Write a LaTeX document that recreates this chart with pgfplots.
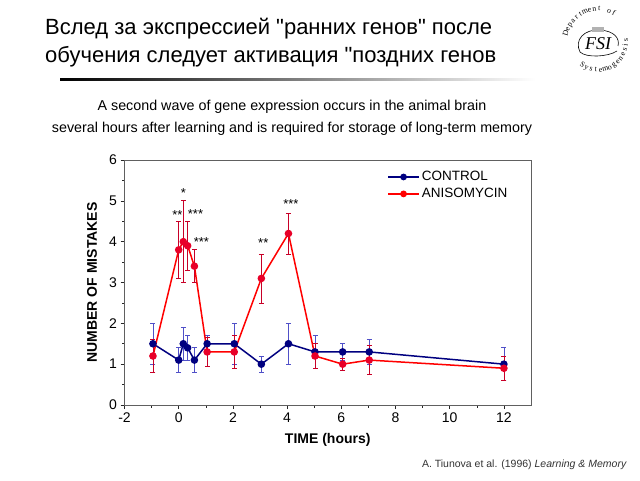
\documentclass[border=0pt]{standalone}
\usepackage{fontspec}
\setmainfont{Liberation Sans}
\newfontfamily\plainsans{Liberation Sans}
\newfontfamily\serifl{Liberation Serif}
\usepackage{pgfplots}
\pgfplotsset{compat=1.18}
\definecolor{ctrl}{RGB}{0,0,128}
\definecolor{ctrlerr}{RGB}{80,80,200}
\definecolor{aniso}{RGB}{255,0,0}
\definecolor{anisomk}{RGB}{232,0,40}
\definecolor{anisoerr}{RGB}{200,0,40}
\begin{document}
\begin{tikzpicture}[x=1pt,y=1pt]
\path[fill=white] (0,0) rectangle (640,480);
% title
\node[anchor=base west, inner sep=0pt, font=\plainsans\fontsize{22}{25}\selectfont] at (45,445) {Вслед за экспрессией "ранних генов" после};
\node[anchor=base west, inner sep=0pt, font=\plainsans\fontsize{22}{25}\selectfont] at (45,417) {обучения следует активация "поздних генов};
\shade[left color=black, right color=white] (60,399) rectangle (535,401.2);
% subtitle
\node[anchor=base, inner sep=0pt, font=\fontsize{14.3}{16}\selectfont] at (292,369) {A second wave of gene expression occurs in the animal brain};
\node[anchor=base, inner sep=0pt, font=\fontsize{14.3}{16}\selectfont] at (292,347) {several hours after learning and is required for storage of long-term memory};
% citation
\node[anchor=base east, inner sep=0pt, font=\fontsize{10.5}{12}\selectfont, text=black!80] at (627,13) {A. Tiunova et al. (1996) \textit{Learning \& Memory}};
% logo
\begin{scope}[shift={(598,438)}]
\draw[line width=0.6pt] (-18,-10) .. controls (-24,2) and (-14,13) .. (2,12) .. controls (16,11) and (22,4) .. (20,-4);
\draw[line width=0.6pt] (-18,-10) .. controls (-12,-16) and (10,-15) .. (19,-9);
\node[font=\serifl\itshape\fontsize{18}{20}\selectfont] at (0,-2) {FSI};
\fill[gray!60] (-6,10) rectangle (6,15);
\foreach \ch [count=\i, evaluate=\i as \a using 165-(\i-1)*8.6] in {D,e,p,a,r,t,m,e,n,t,{},o,f}
  \node[font=\serifl\fontsize{7.8}{9}\selectfont, inner sep=0pt, anchor=base, rotate=\a-90] at (\a:31) {\ch};
\foreach \ch [count=\i, evaluate=\i as \a using 236+(\i-1)*9.8] in {S,y,s,t,e,m,o,g,e,n,e,s,i,s}
  \node[font=\serifl\fontsize{7.8}{9}\selectfont, inner sep=0pt, anchor=base, rotate=\a+90] at (\a:30) {\ch};
\end{scope}
\begin{axis}[
  at={(124.5pt,75pt)}, anchor=south west,
  scale only axis, width=406.5pt, height=245pt,
  xmin=-2, xmax=13, ymin=0, ymax=6,
  xtick={-2,0,2,4,6,8,10,12}, ytick={0,1,2,3,4,5,6},
  minor x tick num=1, minor y tick num=1,
  tick align=outside, xtick pos=bottom, ytick pos=left,
  axis line style={gray!75!black, line width=0.7pt},
  tick style={gray!30!black, line width=0.6pt},
  major tick length=4pt, minor tick length=2.5pt,
  ticklabel style={font=\fontsize{14}{15}\selectfont},
  /pgf/number format/assume math mode=true,
  xlabel={TIME (hours)}, ylabel={NUMBER OF MISTAKES},
  label style={font=\bfseries\fontsize{14}{15}\selectfont},
  xlabel style={at={(axis description cs:0.5,-0.143)}, anchor=center},
  ylabel style={at={(axis description cs:-0.08,0.5)}, anchor=center},
  legend style={draw=none, fill=none, at={(0.646,0.962)}, anchor=north west, font=\fontsize{13.5}{15}\selectfont, inner sep=0pt, row sep=2pt},
  legend cell align=left,
  legend image code/.code={\draw[#1,mark=none] (0pt,0pt)--(31pt,0pt); \fill[#1] (15.5pt,0pt) circle (2.6pt);},
]
\addplot[ctrl, line width=1.5pt, mark=*, mark size=3pt, mark options={ctrl, solid},
  error bars/.cd, y dir=both, y explicit,
  error bar style={ctrlerr, line width=0.7pt},
  error mark options={rotate=90, mark size=2.5pt, ctrlerr, line width=0.7pt}]
table[x=x, y=y, y error=e] {
x y e
-0.95 1.5 0.5
0 1.1 0.3
0.17 1.5 0.4
0.33 1.4 0.3
0.58 1.1 0.3
1.05 1.5 0.2
2.05 1.5 0.5
3.05 1.0 0.2
4.05 1.5 0.5
5.03 1.3 0.4
6.05 1.3 0.2
7.03 1.3 0.3
12 1.0 0.4
};
\addlegendentry{CONTROL}
\addplot[aniso, line width=1.5pt, mark=*, mark size=3pt, mark options={anisomk, solid},
  error bars/.cd, y dir=both, y explicit,
  error bar style={anisoerr, line width=0.7pt},
  error mark options={rotate=90, mark size=2.5pt, anisoerr, line width=0.7pt}]
table[x=x, y=y, y error=e] {
x y e
-0.95 1.2 0.4
0 3.8 0.7
0.17 4.0 1.0
0.33 3.9 0.6
0.58 3.4 0.4
1.05 1.3 0.35
2.05 1.3 0.4
3.05 3.1 0.6
4.05 4.2 0.5
5.03 1.2 0.3
6.05 1.0 0.15
7.03 1.1 0.35
12 0.9 0.3
};
\addlegendentry{ANISOMYCIN}
\begin{scope}[font=\fontsize{13}{14}\selectfont]
\node[inner sep=0pt] at (axis cs:0.17,5.2) {*};
\node[inner sep=0pt] at (axis cs:-0.05,4.66) {**};
\node[inner sep=0pt] at (axis cs:0.62,4.68) {***};
\node[inner sep=0pt] at (axis cs:0.84,4.0) {***};
\node[inner sep=0pt] at (axis cs:3.12,3.96) {**};
\node[inner sep=0pt] at (axis cs:4.14,4.93) {***};
\end{scope}
\end{axis}
\end{tikzpicture}
\end{document}
